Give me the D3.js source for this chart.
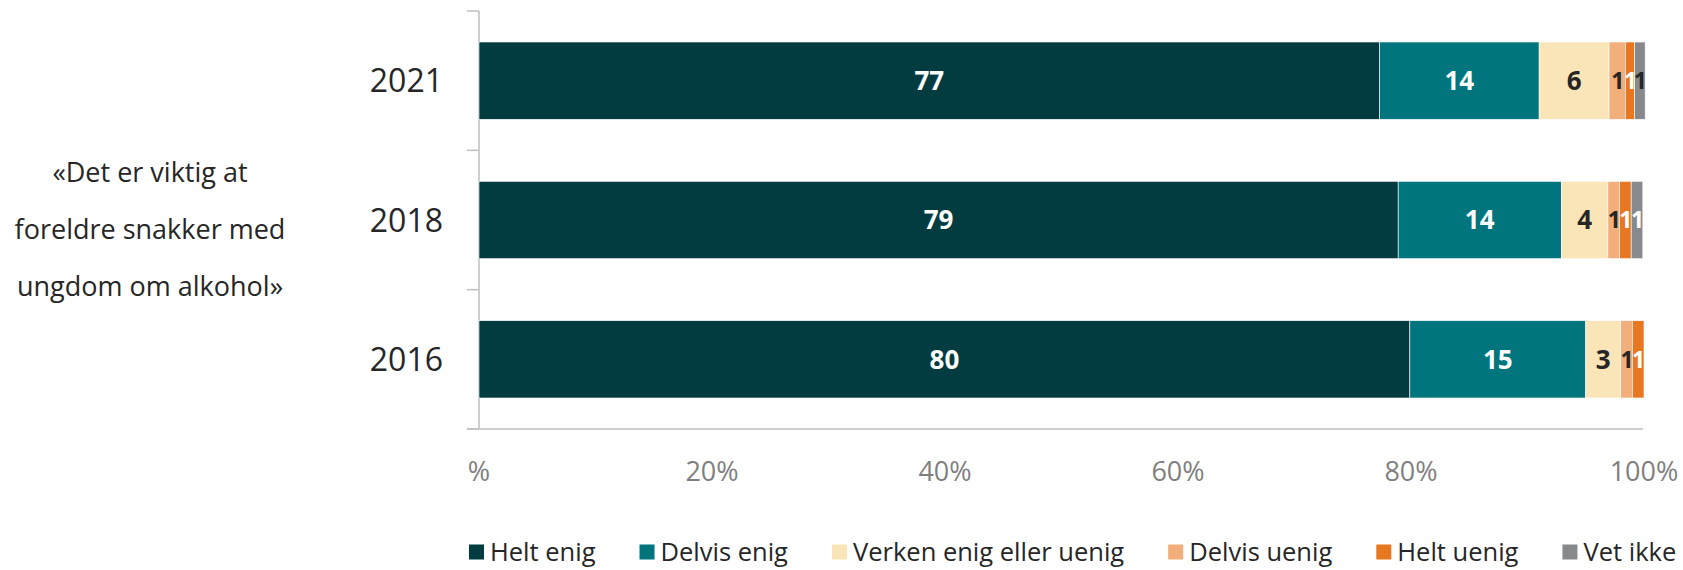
<!DOCTYPE html>
<html>
<head>
<meta charset="utf-8">
<script src="https://cdn.jsdelivr.net/npm/d3@7"></script>
<style>
  body { margin: 0; background: #fff; }
  svg text { font-family: "Open Sans", sans-serif; }
</style>
</head>
<body>
<div id="chart"></div>
<script>
// data
const years = ["2021", "2018", "2016"];
const series = ["Helt enig", "Delvis enig", "Verken enig eller uenig", "Delvis uenig", "Helt uenig", "Vet ikke"];
const colors = ["#023c40", "#00757d", "#fae5b8", "#f2ae7b", "#e87722", "#87898c"];
const labelColors = ["#fff", "#fff", "#262626", "#262626", "#fff", "#fff"];
const values2021 = [77.3, 13.7, 6.0, 1.4, 0.8, 0.9];
const values2018 = [78.9, 14.0, 4.0, 1.0, 1.0, 1.0];
const values2016 = [79.9, 15.1, 3.0, 1.0, 1.0, 0];
const allValues = [values2021, values2018, values2016];
// the grey "1" is dark on the 2021 bar, white on the 2018 bar
const greyLabelColor = ["#262626", "#fff", "#fff"];
const tickValues = [0, 20, 40, 60, 80, 100];
const tickLabels = ["%", "20%", "40%", "60%", "80%", "100%"];
const titleLines = ["«Det er viktig at", "foreldre snakker med", "ungdom om alkohol»"];

const width = 1683;
const height = 570;

const svg = d3.select("#chart")
  .append("svg")
  .attr("width", width)
  .attr("height", height);

const x = d3.scaleLinear().domain([0, 100]).range([479, 1644]);
const y = d3.scaleBand().domain(years).range([11, 429]).padding(0);
const barH = y.bandwidth() * 0.555;

// stacked rows
const rows = years.map((yr, i) => {
  let acc = 0;
  return series.map((s, j) => {
    const v = allValues[i][j];
    const d = { year: yr, key: s, value: v, x0: acc, x1: acc + v, idx: j, row: i };
    acc += v;
    return d;
  });
});

// axis lines
const axisColor = "#bfbfbf";
const axisG = svg.append("g").attr("class", "axis");
axisG.append("line")
  .attr("x1", x(0)).attr("x2", x(0))
  .attr("y1", 11).attr("y2", 429)
  .attr("stroke", axisColor).attr("stroke-width", 1.5);
axisG.selectAll("line.tick")
  .data([11, 11 + y.step(), 11 + 2 * y.step(), 429])
  .join("line")
  .attr("class", "tick")
  .attr("x1", 467).attr("x2", x(0))
  .attr("y1", d => d).attr("y2", d => d)
  .attr("stroke", axisColor).attr("stroke-width", 1.5);
axisG.append("line")
  .attr("x1", 467).attr("x2", x(100) - 1)
  .attr("y1", 429).attr("y2", 429)
  .attr("stroke", axisColor).attr("stroke-width", 1.5);

// x tick labels
svg.append("g")
  .selectAll("text")
  .data(tickValues)
  .join("text")
  .attr("x", d => x(d))
  .attr("y", 471)
  .attr("dy", "0.36em")
  .attr("text-anchor", "middle")
  .attr("fill", "#7f7f7f")
  .style("font-size", "27px")
  .text((d, i) => tickLabels[i]);

// bars
const barG = svg.append("g").attr("class", "bars");
rows.forEach(row => {
  barG.selectAll(null)
    .data(row.filter(d => d.value > 0))
    .join("rect")
    .attr("x", d => x(d.x0))
    .attr("y", d => y(d.year) + (y.bandwidth() - barH) / 2)
    .attr("width", d => x(d.x1) - x(d.x0))
    .attr("height", barH)
    .attr("fill", d => colors[d.idx])
    .attr("stroke", "#fff")
    .attr("stroke-width", 0.6);

  barG.selectAll(null)
    .data(row.filter(d => d.value > 0))
    .join("text")
    .attr("x", d => (x(d.x0) + x(d.x1)) / 2)
    .attr("y", d => y(d.year) + y.bandwidth() / 2)
    .attr("dy", "0.36em")
    .attr("text-anchor", "middle")
    .attr("fill", d => d.idx === 5 ? greyLabelColor[d.row] : labelColors[d.idx])
    .style("font-size", d => d.value < 2 ? "23px" : "26px")
    .style("font-weight", "bold")
    .style("letter-spacing", d => d.value < 2 ? "-1px" : "0px")
    .text(d => Math.round(d.value));
});

// year labels
svg.append("g")
  .selectAll("text")
  .data(years)
  .join("text")
  .attr("x", 443)
  .attr("y", d => y(d) + y.bandwidth() / 2)
  .attr("dy", "0.36em")
  .attr("text-anchor", "end")
  .attr("fill", "#262626")
  .style("font-size", "32px")
  .text(d => d);

// left title
svg.append("g")
  .selectAll("text")
  .data(titleLines)
  .join("text")
  .attr("x", 150)
  .attr("y", (d, i) => 172 + i * 57)
  .attr("dy", "0.36em")
  .attr("text-anchor", "middle")
  .attr("fill", "#262626")
  .style("font-size", "27px")
  .text(d => d);

// legend
const legend = svg.append("g").attr("class", "legend");
const items = legend.selectAll("g")
  .data(series)
  .join("g");
items.append("rect")
  .attr("width", 15).attr("height", 15)
  .attr("y", -7.5)
  .attr("fill", (d, i) => colors[i]);
items.append("text")
  .attr("x", 21)
  .attr("dy", "0.36em")
  .attr("fill", "#262626")
  .style("font-size", "25.5px")
  .text(d => d);

const gap = 44;
let lx = 0;
const widths = [];
items.each(function() {
  widths.push(21 + d3.select(this).select("text").node().getComputedTextLength());
});
const total = d3.sum(widths) + gap * (widths.length - 1);
const startX = Math.min(469, width - 2 - total);
items.attr("transform", (d, i) => {
  const t = `translate(${startX + lx},552)`;
  lx += widths[i] + gap;
  return t;
});
</script>
</body>
</html>
